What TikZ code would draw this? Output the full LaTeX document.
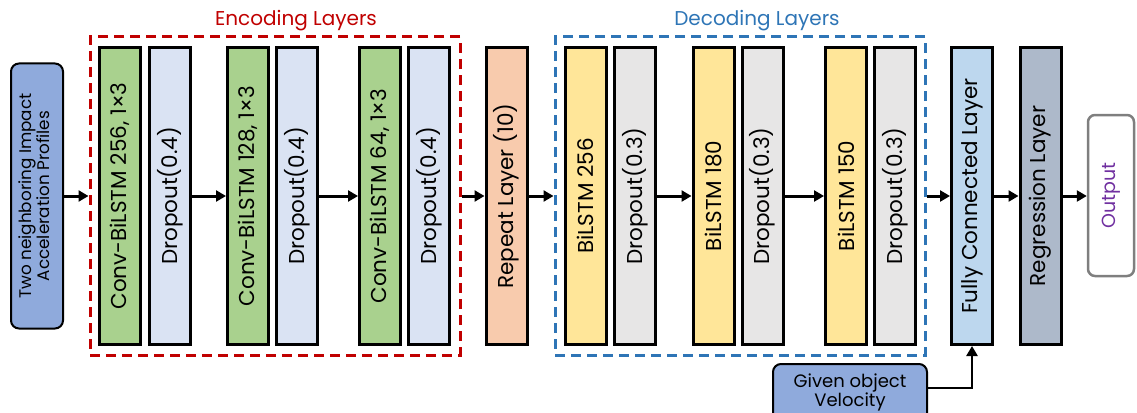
\documentclass[tikz,border=0pt]{standalone}
\usepackage{fontspec}
\setmainfont{Poppins}
\usetikzlibrary{arrows.meta}
\definecolor{encred}{HTML}{C00000}
\definecolor{decblue}{HTML}{2E75B6}
\definecolor{cgreen}{HTML}{A9D18E}
\definecolor{cpale}{HTML}{DAE3F3}
\definecolor{corange}{HTML}{F8CBAD}
\definecolor{cyellow}{HTML}{FFE699}
\definecolor{cgray}{HTML}{E7E6E6}
\definecolor{cfc}{HTML}{BDD7EE}
\definecolor{creg}{HTML}{ADB9CA}
\definecolor{cin}{HTML}{8FAADC}
\definecolor{cout}{HTML}{7F7F7F}
\definecolor{cpurple}{HTML}{7030A0}
\tikzset{
  layer/.style={draw=black, line width=3pt, minimum width=41pt, minimum height=297pt, inner sep=0pt, font=\fontsize{21.5}{24}\selectfont},
  group/.style={draw, dashed, line width=3pt, dash pattern=on 10pt off 6pt},
  title/.style={font=\fontsize{20}{22}\selectfont},
  conn/.style={line width=3pt, -{Triangle[length=10pt,width=11pt]}},
  inbox/.style={draw=black, line width=2pt, rounded corners=8pt, fill=cin, inner sep=0pt}
}
\newcommand{\rt}[1]{\rotatebox{90}{#1}}
\begin{document}
\begin{tikzpicture}[x=1pt,y=-1pt]
\useasboundingbox (0,0) rectangle (1137,412);
% input
\node[inbox, minimum width=52pt, minimum height=265pt, font=\fontsize{16.8}{18.5}\selectfont] (in) at (37,196)
  {\rt{\begin{tabular}{@{}c@{}}Two neighboring Impact\\Acceleration Profiles\end{tabular}}};
% groups
\node[group, draw=encred, minimum width=370pt, minimum height=318pt, inner sep=0pt] (enc) at (275,196) {};
\node[group, draw=decblue, minimum width=370pt, minimum height=318pt, inner sep=0pt] (dec) at (740,196) {};
\node[title, text=encred] (enct) at (296,21) {Encoding Layers};
\node[title, text=decblue] (dect) at (757,21) {Decoding Layers};
% encoding layers
\node[layer, fill=cgreen] (c1) at (120,196) {\rt{Conv-BiLSTM 256, 1×3}};
\node[layer, fill=cpale] (d1) at (170,196) {\rt{Dropout(0.4)}};
\node[layer, fill=cgreen] (c2) at (248,196) {\rt{Conv-BiLSTM 128, 1×3}};
\node[layer, fill=cpale] (d2) at (297,196) {\rt{Dropout(0.4)}};
\node[layer, fill=cgreen] (c3) at (380,196) {\rt{Conv-BiLSTM 64, 1×3}};
\node[layer, fill=cpale] (d3) at (429,196) {\rt{Dropout(0.4)}};
% repeat
\node[layer, fill=corange] (rep) at (506.5,196) {\rt{Repeat Layer (10)}};
% decoding layers
\node[layer, fill=cyellow] (b1) at (585.5,196) {\rt{BiLSTM 256}};
\node[layer, fill=cgray] (e1) at (635,196) {\rt{Dropout(0.3)}};
\node[layer, fill=cyellow] (b2) at (713.5,196) {\rt{BiLSTM 180}};
\node[layer, fill=cgray] (e2) at (762.5,196) {\rt{Dropout(0.3)}};
\node[layer, fill=cyellow] (b3) at (846,196) {\rt{BiLSTM 150}};
\node[layer, fill=cgray] (e3) at (895,196) {\rt{Dropout(0.3)}};
% head
\node[layer, fill=cfc] (fc) at (972,196) {\rt{Fully Connected Layer}};
\node[layer, fill=creg] (reg) at (1040.5,196) {\rt{Regression Layer}};
\node[draw=cout, line width=2.5pt, rounded corners=7pt, minimum width=46pt, minimum height=161pt, inner sep=0pt, text=cpurple, font=\fontsize{19}{21}\selectfont] (out) at (1111,195.5) {\rt{Output}};
% velocity
\node[inbox, minimum width=154pt, minimum height=58pt, align=center, anchor=north west, font=\fontsize{18}{21}\selectfont] (vel) at (772,363)
  {\raisebox{4pt}{\begin{tabular}{@{}c@{}}Given object\\[-2pt]Velocity\end{tabular}}};
\coordinate (velc) at (972,388);
% connectors
\draw[conn] (in.east |- 0,196) -- (enc.west |- 0,196);
\draw[conn] (d1.east |- 0,196) -- (c2.west |- 0,196);
\draw[conn] (d2.east |- 0,196) -- (c3.west |- 0,196);
\draw[conn] (enc.east |- 0,196) -- (rep.west |- 0,196);
\draw[conn] (rep.east |- 0,196) -- (dec.west |- 0,196);
\draw[conn] (e1.east |- 0,196) -- (b2.west |- 0,196);
\draw[conn] (e2.east |- 0,196) -- (b3.west |- 0,196);
\draw[conn] (dec.east |- 0,196) -- (fc.west |- 0,196);
\draw[conn] (fc.east |- 0,196) -- (reg.west |- 0,196);
\draw[conn] (reg.east |- 0,196) -- (out.west |- 0,196);
\draw[line width=2.5pt, -{Triangle[length=10pt,width=11pt]}] (vel.east |- velc) -- (velc) -- (fc.south);
\end{tikzpicture}
\end{document}
